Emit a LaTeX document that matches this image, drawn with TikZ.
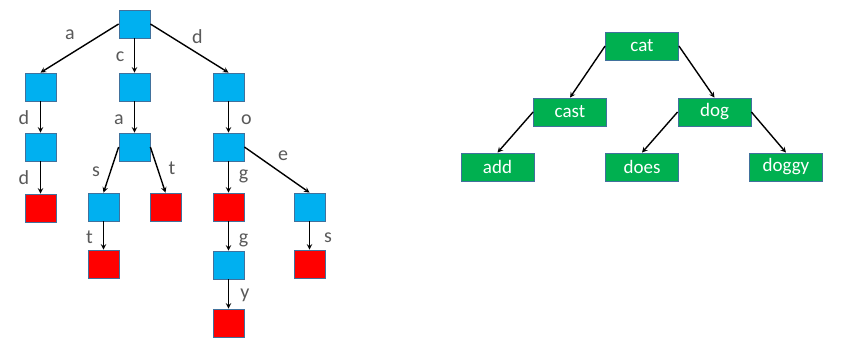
\documentclass[tikz,border=0pt]{standalone}
\usepackage{fontspec}
\setmainfont{Carlito}
\definecolor{trieblue}{HTML}{00B0F0}
\definecolor{triered}{HTML}{FF0000}
\definecolor{wordgreen}{HTML}{00B050}
\definecolor{boxline}{HTML}{41719C}
\definecolor{lblgray}{HTML}{595959}
\tikzset{
  inner/.style={draw=boxline, fill=trieblue, line width=0.8pt, minimum width=31pt, minimum height=28pt, inner sep=0pt},
  leaf/.style={inner, fill=triered},
  word/.style={draw=boxline, fill=wordgreen, line width=0.8pt, minimum width=73pt, minimum height=28pt, inner sep=0pt, text=white, font=\fontsize{19}{22}\selectfont},
  lbl/.style={anchor=base, inner sep=0pt, text=lblgray, font=\fontsize{20}{22}\selectfont},
}
\begin{document}
\begin{tikzpicture}[x=1pt, y=-1pt, >=stealth]
            \useasboundingbox (0,0) rectangle (841,347);
            % trie
            \node[inner] (root) at (134.5,24) {};
            \node[inner] (a1) at (40.5,87) {};
            \node[inner] (c1) at (134.5,87) {};
            \node[inner] (d1) at (228.5,87) {};
            \node[inner] (ad) at (40.5,147) {};
            \node[inner] (ca) at (134.5,147) {};
            \node[inner] (do) at (228.5,147) {};
            \node[leaf] (add) at (40.5,208) {};
            \node[inner] (cas) at (103.5,207) {};
            \node[leaf] (cat) at (165.5,207) {};
            \node[leaf] (dog) at (228.5,207) {};
            \node[inner] (doe) at (309.5,207) {};
            \node[leaf] (cast) at (103.5,264) {};
            \node[inner] (dogg) at (228.5,265) {};
            \node[leaf] (does) at (309.5,264) {};
            \node[leaf] (doggy) at (228.5,323) {};
            \draw[->, line width=1.4pt] (root.west) -- (a1.north);
            \draw[->, line width=1.4pt] (root) -- (c1);
            \draw[->, line width=1.4pt] (root.east) -- (d1.north);
            \draw[->, line width=1.4pt] (a1) -- (ad);
            \draw[->, line width=1.4pt] (c1) -- (ca);
            \draw[->, line width=1.4pt] (d1) -- (do);
            \draw[->, line width=1.4pt] (ad) -- (add);
            \draw[->, line width=1.4pt] (ca.west) -- (cas.north);
            \draw[->, line width=1.4pt] (ca.east) -- (cat.north);
            \draw[->, line width=1.4pt] (do) -- (dog);
            \draw[->, line width=1.4pt] (do.east) -- (doe.north);
            \draw[->, line width=1.4pt] (cas) -- (cast);
            \draw[->, line width=1.4pt] (dog) -- (dogg);
            \draw[->, line width=1.4pt] (doe) -- (does);
            \draw[->, line width=1.4pt] (dogg) -- (doggy);
            \node[lbl] (la) at (70,40) {a};
            \node[lbl] (lc) at (120,62) {c};
            \node[lbl] (ld) at (197.5,44) {d};
            \node[lbl] (lad) at (24,125) {d};
            \node[lbl] (lca) at (119,125) {a};
            \node[lbl] (ldo) at (246.5,125) {o};
            \node[lbl] (ladd) at (24,185) {d};
            \node[lbl] (lcas) at (96,177) {s};
            \node[lbl] (lcat) at (172,175) {t};
            \node[lbl] (ldog) at (243.5,180) {g};
            \node[lbl] (ldoe) at (283,161) {e};
            \node[lbl] (lcast) at (89.5,244) {t};
            \node[lbl] (ldogg) at (243.5,244) {g};
            \node[lbl] (ldoes) at (328,243) {s};
            \node[lbl] (ldoggy) at (245,299) {y};
            % binary search tree
            \node[word] (wcat) at (642,46) {cat};
            \node[word] (wcast) at (570,112) {cast};
            \node[word] (wdog) at (714.5,112) {dog};
            \node[word] (wadd) at (497.5,167) {add};
            \node[word] (wdoes) at (642,167) {does};
            \node[word] (wdoggy) at (786,167) {doggy};
            \draw[->, line width=1.4pt] (wcat.west) -- (wcast.north);
            \draw[->, line width=1.4pt] (wcat.east) -- (wdog.north);
            \draw[->, line width=1.4pt] (wcast.west) -- (wadd.north);
            \draw[->, line width=1.4pt] (wdog.west) -- (wdoes.north);
            \draw[->, line width=1.4pt] (wdog.east) -- (wdoggy.north);
        \end{tikzpicture}
\end{document}
